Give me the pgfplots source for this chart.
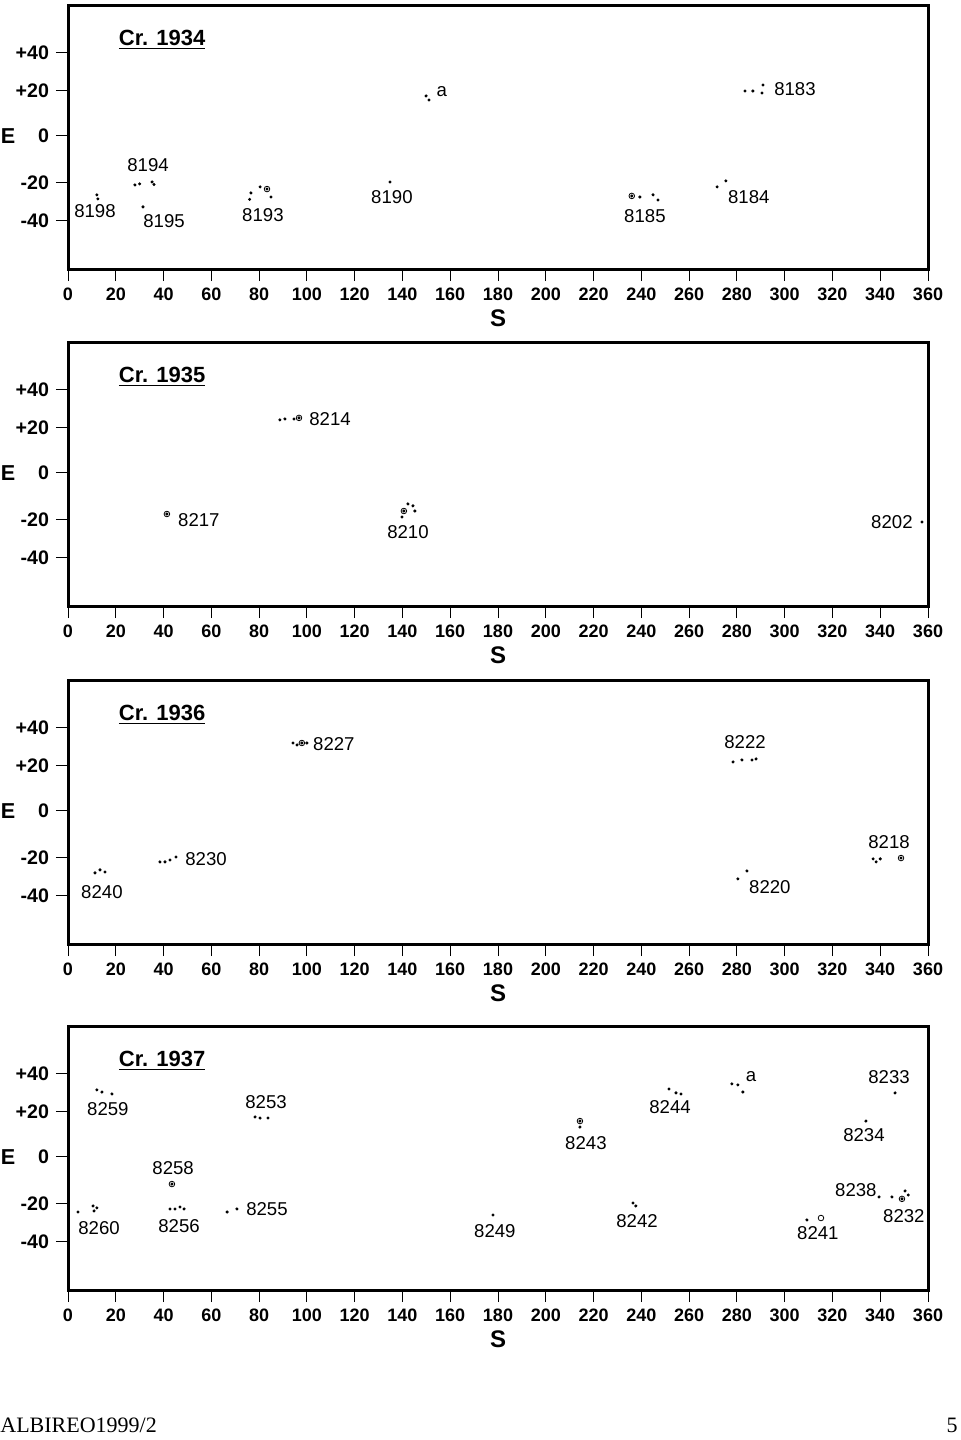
\documentclass[border=0pt]{standalone}
\usepackage{fontspec}
\setmainfont{Liberation Sans}
\newfontfamily\serif{Liberation Serif}
\usepackage{pgfplots}
\pgfplotsset{compat=1.18}

\pgfplotsset{
  panel/.style={
    scale only axis, width=430pt, height=132pt, anchor=north west,
    xmin=0, xmax=360, ymin=-61.9, ymax=60.9,
    axis line style={line width=1.5pt},
    xtick={0,20,...,360},
    % tick marks sit where the scanned figure has them (not quite evenly spaced)
    ytick={-39.5,-21.6,0,21.1,38.8},
    yticklabels={-40,-20,0,+20,+40},
    tick align=outside, major tick length=6pt,
    tick style={line width=0.5pt, black},
    xtick pos=left, ytick pos=left,
    xticklabel style={font=\bfseries\fontsize{9}{10}\selectfont},
    yticklabel style={font=\bfseries\fontsize{9.8}{10}\selectfont},
    /pgf/number format/assume math mode=true,
    xlabel={S},
    xlabel style={font=\bfseries\fontsize{12}{12}\selectfont,
      at={(axis description cs:0.5,0)}, anchor=center, yshift=-24.5pt},
    clip=false,
  },
  dots/.style={only marks, mark=*, mark size=0.55pt, black},
  rings/.style={only marks, mark=o, mark size=1.4pt, black, mark options={line width=0.4pt}},
}
\newcommand{\lab}[3]{\node[font=\fontsize{9.3}{10}\selectfont, inner sep=0pt] at (axis cs:#1,#2) {#3};}
\newcommand{\ttl}[1]{\node[font=\bfseries\fontsize{11}{12}\selectfont, inner sep=0pt] at (axis cs:39.4,44.5) {\underline{#1}};
  \node[font=\bfseries\fontsize{10.8}{11}\selectfont, inner sep=0pt] at ([xshift=-30pt]axis cs:0,0) {E};}

\begin{document}
\begin{tikzpicture}
\useasboundingbox (0,0) rectangle (480pt,-720pt);

% Cr. 1934
\begin{axis}[panel, at={(34pt,-2.5pt)}]
\addplot[dots] coordinates {
  (12.1,-27.4)(12.5,-29.3)
  (28,-22.8)(30,-22.3)(35.2,-21.4)(36,-22.6)
  (31.4,-33)
  (76.6,-26.5)(80.4,-23.7)(83.3,-24.7)(85,-28.4)(76,-29.5)
  (149.9,18.6)(151.1,16.7)
  (134.8,-21.4)
  (236,-27.9)(239.4,-28.4)(244.9,-27.4)(247,-29.8)
  (271.7,-23.7)(275.4,-20.9)
  (283.4,20.9)(286.7,20.9)(290.9,23.7)(290.5,20)
};
\addplot[rings] coordinates {(83.3,-24.7)(236,-27.9)};
\ttl{Cr. 1934}
\lab{11.3}{-34.9}{8198}
\lab{33.5}{-13.5}{8194}
\lab{40.2}{-39.5}{8195}
\lab{81.6}{-36.7}{8193}
\lab{156.5}{20.5}{a}
\lab{135.6}{-28.4}{8190}
\lab{241.5}{-37.2}{8185}
\lab{285}{-28.4}{8184}
\lab{304.3}{21.9}{8183}
\end{axis}

% Cr. 1935
\begin{axis}[panel, at={(34pt,-171pt)}]
\addplot[dots] coordinates {
  (88.7,24.7)(90.8,25.1)(94.6,25.1)(96.7,25.6)
  (41.4,-19.1)
  (140.6,-17.7)(142.3,-14.4)(144.4,-15.3)(139.8,-20.5)(145.2,-17.7)
  (357.5,-22.8)
};
\addplot[rings] coordinates {(96.7,25.6)(140.6,-17.7)(41.4,-19.1)};
\ttl{Cr. 1935}
\lab{109.7}{25.1}{8214}
\lab{54.8}{-21.9}{8217}
\lab{142.3}{-27.4}{8210}
\lab{344.9}{-22.8}{8202}
\end{axis}

% Cr. 1936
\begin{axis}[panel, at={(34pt,-340pt)}]
\addplot[dots] coordinates {
  (94.2,31.6)(95.9,30.7)(97.9,31.6)(100,31.6)
  (38.5,-23.7)(40.6,-23.7)(42.7,-22.8)(45.2,-21.4)
  (11.3,-28.8)(13.4,-27.4)(15.5,-28.4)
  (278.4,22.8)(282.1,23.7)(286.3,23.7)(288,24.2)
  (284.2,-27.9)(280.4,-31.6)
  (337,-22.3)(338.3,-23.7)(340,-22.3)(348.7,-21.9)
};
\addplot[rings] coordinates {(348.7,-21.9)(97.9,31.6)};
\ttl{Cr. 1936}
\lab{111.3}{31.2}{8227}
\lab{57.8}{-22.3}{8230}
\lab{14.2}{-37.7}{8240}
\lab{283.4}{32.1}{8222}
\lab{293.8}{-35.3}{8220}
\lab{343.7}{-14.4}{8218}
\end{axis}

% Cr. 1937
\begin{axis}[panel, at={(34pt,-513pt)}]
\addplot[dots] coordinates {
  (12.1,31.2)(14.2,30.2)(18.4,29.3)
  (78.3,18.6)(80.4,18.1)(83.7,18.1)
  (43.5,-12.6)
  (4.2,-25.6)(10.5,-22.8)(10.9,-25.1)(12.1,-23.7)
  (42.7,-24.2)(44.8,-24.2)(46.9,-23.3)(48.6,-24.2)
  (66.6,-25.6)(70.7,-24.2)
  (177.9,-27)
  (214.3,16.7)(214.3,13.9)
  (236.5,-21.4)(237.7,-22.8)
  (251.6,31.6)(254.5,29.8)(256.6,29.3)
  (277.9,34)(280.4,33.5)(282.5,30.2)
  (346.2,29.8)
  (334,16.7)
  (339.5,-18.6)
  (344.9,-18.6)(349.1,-19.5)(350.4,-15.8)(351.7,-17.7)
  (309.3,-29.3)
};
\addplot[rings] coordinates {(43.5,-12.6)(349.1,-19.5)(315.2,-28.4)(214.3,16.7)};
\ttl{Cr. 1937}
\lab{16.7}{22.3}{8259}
\lab{82.9}{25.6}{8253}
\lab{44}{-5.1}{8258}
\lab{13}{-33}{8260}
\lab{46.5}{-32.1}{8256}
\lab{83.3}{-24.2}{8255}
\lab{178.7}{-34.4}{8249}
\lab{216.8}{6.5}{8243}
\lab{238.2}{-29.8}{8242}
\lab{252}{23.3}{8244}
\lab{285.9}{37.2}{a}
\lab{343.7}{37.2}{8233}
\lab{333.2}{10.2}{8234}
\lab{329.8}{-15.3}{8238}
\lab{349.9}{-27.4}{8232}
\lab{313.9}{-35.3}{8241}
\end{axis}

\node[anchor=base west, inner sep=0pt, font=\serif\fontsize{11}{11}\selectfont] at (0pt,-716pt) {ALBIREO1999/2};
\node[anchor=base east, inner sep=0pt, font=\serif\fontsize{11}{11}\selectfont] at (479pt,-716pt) {5};
\end{tikzpicture}
\end{document}
